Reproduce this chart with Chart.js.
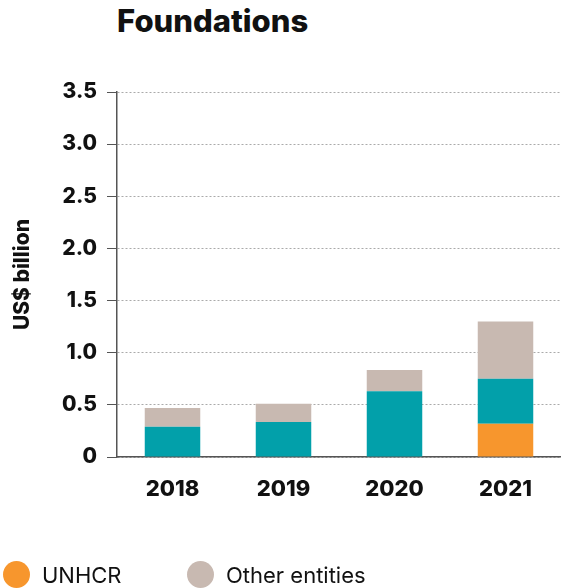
<!DOCTYPE html>
<html>
<head>
<meta charset="utf-8">
<script src="https://cdn.jsdelivr.net/npm/chart.js@4"></script>
<style>
  html, body { margin: 0; padding: 0; background: #fff; overflow: hidden; }
  body { width: 561px; height: 588px; position: relative; font-family: Inter, sans-serif; }
  #titulo { position: absolute; left: 117px; top: 2px; font-size: 31px; font-weight: 800; color: #111; }
  #lienzo { position: absolute; left: 0; top: 0; }
  .leyenda { position: absolute; top: 561px; display: flex; align-items: center; font-size: 22px; color: #111; }
  .leyenda span.punto { width: 27px; height: 27px; border-radius: 50%; display: inline-block; margin-right: 12px; }
</style>
</head>
<body>
<div id="titulo">Foundations</div>
<canvas id="lienzo" width="561" height="588"></canvas>
<div class="leyenda" style="left:3px"><span class="punto" style="background:#F7962D"></span>UNHCR</div>
<div class="leyenda" style="left:187px"><span class="punto" style="background:#C8B9B1"></span>Other entities</div>
<script>
// Datos (US$ miles de millones)
const anios = ['2018', '2019', '2020', '2021'];
const unhcr = [0, 0, 0, 0.32];
const agenciasOnu = [0.29, 0.335, 0.63, 0.43];
const otrasEntidades = [0.18, 0.175, 0.205, 0.55];
const etiquetasY = [0, 0.5, 1.0, 1.5, 2.0, 2.5, 3.0, 3.5];

const fuenteEje = { family: 'Inter', size: 22, weight: 800 };

new Chart(document.getElementById('lienzo'), {
    type: 'bar',
    data: {
        labels: anios,
        datasets: [
            { label: 'UNHCR', data: unhcr, backgroundColor: '#F7962D' },
            { label: 'UN', data: agenciasOnu, backgroundColor: '#02A0AA' },
            { label: 'Other entities', data: otrasEntidades, backgroundColor: '#C8B9B1' }
        ]
    },
    options: {
        responsive: false,
        animation: false,
        layout: { padding: { top: 92, right: 0, bottom: 0, left: 0 } },
        plugins: { legend: { display: false }, tooltip: { enabled: false } },
        datasets: { bar: { barPercentage: 0.5, categoryPercentage: 1 } },
        scales: {
            x: {
                stacked: true,
                grid: { display: false, drawTicks: false },
                border: { color: '#555', width: 1.5 },
                ticks: { color: '#111', font: fuenteEje, padding: 19 },
                afterFit: s => { s.height = 131; }
            },
            y: {
                stacked: true,
                min: 0,
                max: 3.5,
                afterBuildTicks: s => { s.ticks = etiquetasY.map(v => ({ value: v })); },
                grid: { color: '#aaa', tickColor: '#555', tickLength: 10, lineWidth: 1 },
                border: { color: '#555', width: 1.5, dash: [2, 2] },
                ticks: {
                    color: '#111', font: { family: 'Inter', size: 21, weight: 800 }, padding: 10,
                    callback: v => v === 0 ? '0' : v.toFixed(1)
                },
                title: {
                    display: true, text: 'US$ billion', color: '#111',
                    font: { family: 'Inter', size: 21, weight: 800 },
                    padding: { top: 10, bottom: 0 }
                },
                afterFit: s => { s.width = 117; }
            }
        }
    }
});
</script>
</body>
</html>
